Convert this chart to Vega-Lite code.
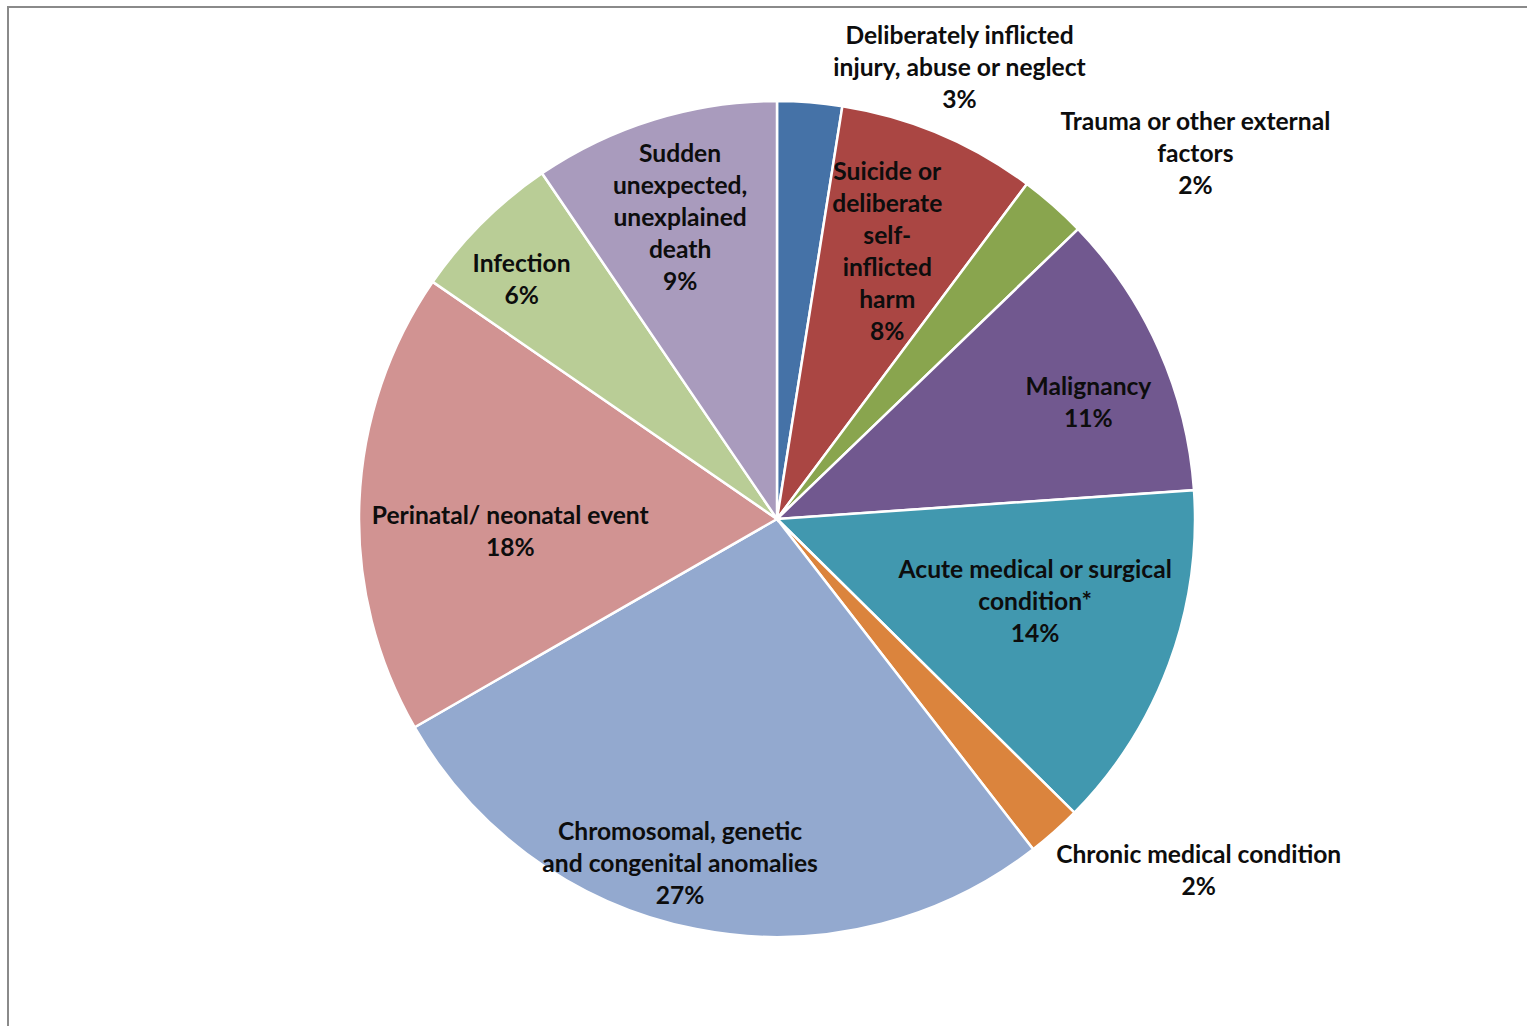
{
  "$schema": "https://vega.github.io/schema/vega-lite/v6.json",
  "width": 1538,
  "height": 1024,
  "autosize": "none",
  "padding": {"left": 8, "top": 7, "right": 0, "bottom": 0},
  "background": "white",
  "view": {"stroke": "#8a8a8a", "strokeWidth": 2, "fill": "white"},
  "config": {
    "view": {"stroke": "#8a8a8a", "strokeWidth": 2},
    "text": {"font": "Lato", "fontSize": 24.6, "fontWeight": "bold", "fill": "#0d0d0d", "lineHeight": 32, "lineBreak": "\n", "align": "center", "baseline": "middle"}
  },
  "data": {
    "values": [
      {"key": "deliberate", "label": "Deliberately inflicted\ninjury, abuse or neglect\n3%", "value": 2.5, "ord": 1},
      {"key": "suicide", "label": "Suicide or\ndeliberate\nself-\ninflicted\nharm\n8%", "value": 7.7, "ord": 2},
      {"key": "trauma", "label": "Trauma or other external\nfactors\n2%", "value": 2.6, "ord": 3},
      {"key": "malignancy", "label": "Malignancy\n11%", "value": 11.1, "ord": 4},
      {"key": "acute", "label": "Acute medical or surgical\ncondition*\n14%", "value": 13.5, "ord": 5},
      {"key": "chronic", "label": "Chronic medical condition\n2%", "value": 2.1, "ord": 6},
      {"key": "chromosomal", "label": "Chromosomal, genetic\nand congenital anomalies\n27%", "value": 27.2, "ord": 7},
      {"key": "perinatal", "label": "Perinatal/ neonatal event\n18%", "value": 17.9, "ord": 8},
      {"key": "infection", "label": "Infection\n6%", "value": 5.9, "ord": 9},
      {"key": "sudden", "label": "Sudden\nunexpected,\nunexplained\ndeath\n9%", "value": 9.5, "ord": 10}
    ]
  },
  "encoding": {
    "theta": {"field": "value", "type": "quantitative", "stack": true},
    "order": {"field": "ord", "type": "quantitative"},
    "detail": {"field": "key", "type": "nominal"}
  },
  "layer": [
    {
      "mark": {"type": "arc", "radius": 418, "stroke": "white", "strokeWidth": 2.5},
      "encoding": {
        "color": {
          "field": "key", "type": "nominal", "legend": null,
          "scale": {
            "domain": ["deliberate", "suicide", "trauma", "malignancy", "acute", "chronic", "chromosomal", "perinatal", "infection", "sudden"],
            "range": ["#4572A7", "#AA4643", "#89A54E", "#71588F", "#4198AF", "#DB843D", "#93A9CF", "#D19392", "#B9CD96", "#A99BBD"]
          }
        }
      }
    },
    {"mark": {"type": "text", "radius": 453, "dx": 147, "dy": -30}, "encoding": {"text": {"condition": {"test": "datum.key === 'deliberate'", "field": "label"}, "value": ""}}},
    {"mark": {"type": "text", "radius": 289, "dx": -2, "dy": -80}, "encoding": {"text": {"condition": {"test": "datum.key === 'suicide'", "field": "label"}, "value": ""}}},
    {"mark": {"type": "text", "radius": 551, "dx": 54, "dy": 17}, "encoding": {"text": {"condition": {"test": "datum.key === 'trauma'", "field": "label"}, "value": ""}}},
    {"mark": {"type": "text", "radius": 332, "dx": 8, "dy": 4}, "encoding": {"text": {"condition": {"test": "datum.key === 'malignancy'", "field": "label"}, "value": ""}}},
    {"mark": {"type": "text", "radius": 270, "dx": 5, "dy": -42}, "encoding": {"text": {"condition": {"test": "datum.key === 'acute'", "field": "label"}, "value": ""}}},
    {"mark": {"type": "text", "radius": 542, "dx": 62, "dy": -68}, "encoding": {"text": {"condition": {"test": "datum.key === 'chronic'", "field": "label"}, "value": ""}}},
    {"mark": {"type": "text", "radius": 356, "dx": -28, "dy": -35}, "encoding": {"text": {"condition": {"test": "datum.key === 'chromosomal'", "field": "label"}, "value": ""}}},
    {"mark": {"type": "text", "radius": 266, "dx": -1, "dy": 9}, "encoding": {"text": {"condition": {"test": "datum.key === 'perinatal'", "field": "label"}, "value": ""}}},
    {"mark": {"type": "text", "radius": 351, "dx": -8, "dy": -5}, "encoding": {"text": {"condition": {"test": "datum.key === 'infection'", "field": "label"}, "value": ""}}},
    {"mark": {"type": "text", "radius": 316, "dx": -4, "dy": -62}, "encoding": {"text": {"condition": {"test": "datum.key === 'sudden'", "field": "label"}, "value": ""}}}
  ]
}
